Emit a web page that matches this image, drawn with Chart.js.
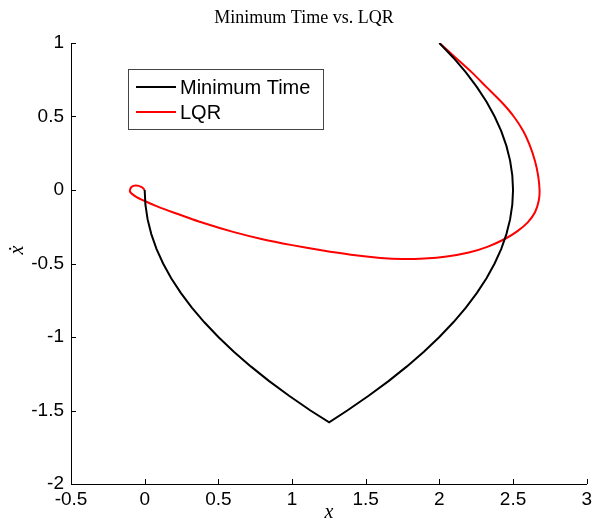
<!DOCTYPE html>
<html>
<head>
<meta charset="utf-8">
<script src="https://cdn.jsdelivr.net/npm/chart.js@4"></script>
<style>
  html, body { margin: 0; padding: 0; background: #fff; }
  #wrap { width: 596px; height: 525px; position: relative; }
</style>
</head>
<body>
<div id="wrap"><canvas id="chart"></canvas></div>
<script>
// phase plane data (x, xdot)
const minTimeX = [2.0, 2.095, 2.18, 2.255, 2.32, 2.375, 2.42, 2.455, 2.48, 2.495, 2.5,
  2.495, 2.48, 2.455, 2.42, 2.375, 2.32, 2.255, 2.18, 2.095, 2.0, 1.895, 1.78, 1.655, 1.52, 1.375, 1.252,
  1.125, 0.98, 0.845, 0.72, 0.605, 0.5, 0.405, 0.32, 0.245, 0.18, 0.125, 0.08, 0.045, 0.02, 0.005, 0.0];
const minTimeV = [1.0, 0.9, 0.8, 0.7, 0.6, 0.5, 0.4, 0.3, 0.2, 0.1, 0.0,
  -0.1, -0.2, -0.3, -0.4, -0.5, -0.6, -0.7, -0.8, -0.9, -1.0, -1.1, -1.2, -1.3, -1.4, -1.5, -1.58,
  -1.5, -1.4, -1.3, -1.2, -1.1, -1.0, -0.9, -0.8, -0.7, -0.6, -0.5, -0.4, -0.3, -0.2, -0.1, 0.0];

const lqrX = [2.0, 2.11, 2.22, 2.32, 2.42, 2.505, 2.57, 2.615, 2.648, 2.67, 2.68, 2.675, 2.65, 2.6, 2.53, 2.45,
  2.33, 2.2, 2.05, 1.9, 1.75, 1.6, 1.4, 1.2, 1.0, 0.8, 0.6, 0.4, 0.2, 0.08, 0.0,
  -0.06, -0.1, -0.09, -0.06, -0.02, 0.0];
const lqrV = [1.0, 0.9, 0.8, 0.7, 0.6, 0.5, 0.4, 0.3, 0.2, 0.1, 0.0, -0.07, -0.15, -0.22, -0.28, -0.33,
  -0.385, -0.425, -0.452, -0.466, -0.47, -0.462, -0.44, -0.41, -0.375, -0.335, -0.285, -0.225, -0.155, -0.11, -0.075,
  -0.045, -0.01, 0.02, 0.03, 0.02, 0.0];

const xTicks = [-0.5, 0, 0.5, 1, 1.5, 2, 2.5, 3];
const yTicks = [-2, -1.5, -1, -0.5, 0, 0.5, 1];

const toPoints = (xs, ys) => xs.map((x, i) => ({ x: x, y: ys[i] }));

// title, y label, legend box and inward tick marks, matlab style
const matlabBits = {
    id: 'matlabBits',
    afterDraw(chart) {
        const ctx = chart.ctx;
        const a = chart.chartArea;
        const xs = chart.scales.x, ys = chart.scales.y;
        ctx.save();
        ctx.strokeStyle = '#000';
        ctx.lineWidth = 1;
        ctx.beginPath();
        xTicks.forEach(t => {
            const px = Math.round(xs.getPixelForValue(t)) + 0.5;
            ctx.moveTo(px, a.bottom);
            ctx.lineTo(px, a.bottom - 5);
        });
        yTicks.forEach(t => {
            const py = Math.round(ys.getPixelForValue(t)) + 0.5;
            ctx.moveTo(a.left, py);
            ctx.lineTo(a.left + 5, py);
        });
        ctx.stroke();

        // title
        ctx.fillStyle = '#000';
        ctx.font = '18px "Liberation Serif"';
        ctx.textAlign = 'center';
        ctx.textBaseline = 'middle';
        ctx.fillText('Minimum Time vs. LQR', 304, 18);

        // y label, rotated
        ctx.save();
        ctx.translate(18, 250);
        ctx.rotate(-Math.PI / 2);
        ctx.font = 'italic 20px "Liberation Serif"';
        ctx.fillText('ẋ', 0, 0);
        ctx.restore();

        // legend
        const bx = 128, by = 69, bw = 195, bh = 60;
        ctx.fillStyle = '#fff';
        ctx.fillRect(bx, by, bw, bh);
        ctx.strokeStyle = '#444';
        ctx.strokeRect(bx + 0.5, by + 0.5, bw, bh);
        ctx.font = '20px "Liberation Sans"';
        ctx.textAlign = 'left';
        chart.data.datasets.forEach((ds, i) => {
            const ly = by + 18 + i * 25;
            ctx.strokeStyle = ds.borderColor;
            ctx.lineWidth = 2;
            ctx.beginPath();
            ctx.moveTo(bx + 8, ly);
            ctx.lineTo(bx + 48, ly);
            ctx.stroke();
            ctx.fillStyle = '#000';
            ctx.fillText(ds.label, bx + 52, ly + 1);
        });
        ctx.restore();
    }
};

new Chart(document.getElementById('chart'), {
    type: 'scatter',
    data: {
        datasets: [{
            label: 'Minimum Time',
            data: toPoints(minTimeX, minTimeV),
            showLine: true,
            borderColor: '#000000',
            borderWidth: 2,
            pointRadius: 0,
            tension: 0
        }, {
            label: 'LQR',
            data: toPoints(lqrX, lqrV),
            showLine: true,
            borderColor: '#ff0000',
            borderWidth: 2,
            pointRadius: 0,
            tension: 0.25
        }]
    },
    options: {
        responsive: true,
        maintainAspectRatio: false,
        animation: false,
        layout: { padding: { left: 0, top: 43, right: 3, bottom: 0 } },
        plugins: {
            legend: { display: false },
            tooltip: { enabled: false },
            title: { display: false }
        },
        scales: {
            x: {
                type: 'linear',
                min: -0.5, max: 3,
                afterFit: s => { s.height = 41; },
                afterBuildTicks: s => { s.ticks = xTicks.map(v => ({ value: v })); },
                grid: { display: true, drawOnChartArea: false, drawTicks: false },
                border: { display: true, color: '#000', width: 1 },
                ticks: {
                    color: '#000', padding: 4, font: { family: 'Liberation Sans', size: 19 },
                    callback: v => String(v)
                },
                title: {
                    display: true, text: 'x', color: '#000',
                    padding: { top: 0, bottom: 0 },
                    font: { family: 'Liberation Serif', style: 'italic', size: 20 }
                }
            },
            y: {
                type: 'linear',
                min: -2, max: 1,
                afterFit: s => { s.width = 71; },
                afterBuildTicks: s => { s.ticks = yTicks.map(v => ({ value: v })); },
                grid: { display: true, drawOnChartArea: false, drawTicks: false },
                border: { display: true, color: '#000', width: 1 },
                ticks: {
                    color: '#000', padding: 7, font: { family: 'Liberation Sans', size: 19 },
                    callback: v => String(v)
                }
            }
        }
    },
    plugins: [matlabBits]
});
</script>
</body>
</html>
